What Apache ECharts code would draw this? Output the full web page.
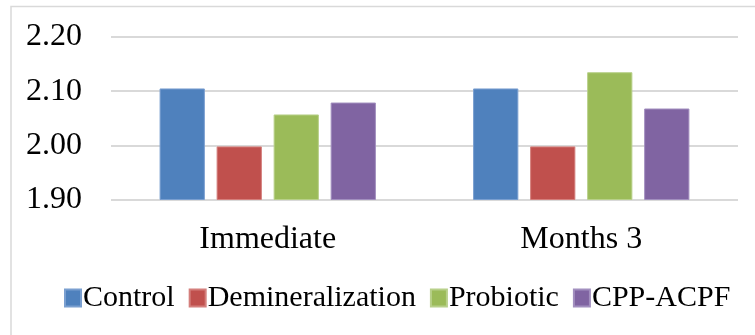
<!DOCTYPE html>
<html>
<head>
<meta charset="utf-8">
<script src="https://cdn.jsdelivr.net/npm/echarts@6/dist/echarts.min.js"></script>
<style>
  html, body { margin: 0; padding: 0; background: #fff; }
  #chart { width: 755px; height: 335px; }
</style>
</head>
<body>
<div id="chart"></div>
<script>
// Measurement groups along the x axis
const categories = ['Immediate', 'Months 3'];

// Mean values per treatment group
const seriesNames = ['Control', 'Demineralization', 'Probiotic', 'CPP-ACPF'];
const controlValues = [2.105, 2.105];
const demineralizationValues = [1.998, 1.998];
const probioticValues = [2.057, 2.135];
const cppAcpfValues = [2.079, 2.068];

// Value axis ticks
const yTicks = [1.90, 2.00, 2.10, 2.20];

const colors = ['#4F81BD', '#C0504D', '#9BBB59', '#8064A2'];
const edgeColors = ['#7a9fd0', '#d47f7c', '#b8d08a', '#a28fbf'];
const valueLists = [controlValues, demineralizationValues, probioticValues, cppAcpfValues];

const font = '"Liberation Serif", "Times New Roman", serif';

const chart = echarts.init(document.getElementById('chart'), null, { renderer: 'canvas' });

chart.setOption({
  animation: false,
  backgroundColor: '#ffffff',
  color: colors,
  graphic: [{
    type: 'rect',
    silent: true,
    shape: { x: 11, y: 6.5, width: 800, height: 400 },
    style: { fill: 'none', stroke: '#d9d9d9', lineWidth: 1.5 }
  }],
  grid: { left: 111, right: 17, top: 37, bottom: 135.5 },
  legend: {
    data: seriesNames,
    left: 64,
    top: 283,
    padding: 0,
    itemWidth: 16,
    itemHeight: 17,
    itemGap: 14,
    icon: 'rect',
    textStyle: { fontFamily: font, fontSize: 30, color: '#000', padding: [0, 0, 0, -3] }
  },
  xAxis: {
    type: 'category',
    data: categories,
    axisLine: { show: false },
    axisTick: { show: false },
    axisLabel: { fontFamily: font, fontSize: 32, color: '#000', margin: 24 }
  },
  yAxis: {
    type: 'value',
    min: yTicks[0],
    max: yTicks[yTicks.length - 1],
    interval: 0.1,
    axisLine: { show: false },
    axisTick: { show: false },
    splitLine: { lineStyle: { color: '#d9d9d9', width: 2 } },
    axisLabel: {
      fontFamily: font, fontSize: 32, color: '#000', margin: 29,
      formatter: v => v.toFixed(2)
    }
  },
  series: seriesNames.map((name, i) => ({
    name: name,
    type: 'bar',
    data: valueLists[i],
    barGap: '26%',
    barCategoryGap: '31%',
    itemStyle: { color: colors[i], borderColor: edgeColors[i], borderWidth: 1 }
  }))
});
</script>
</body>
</html>
